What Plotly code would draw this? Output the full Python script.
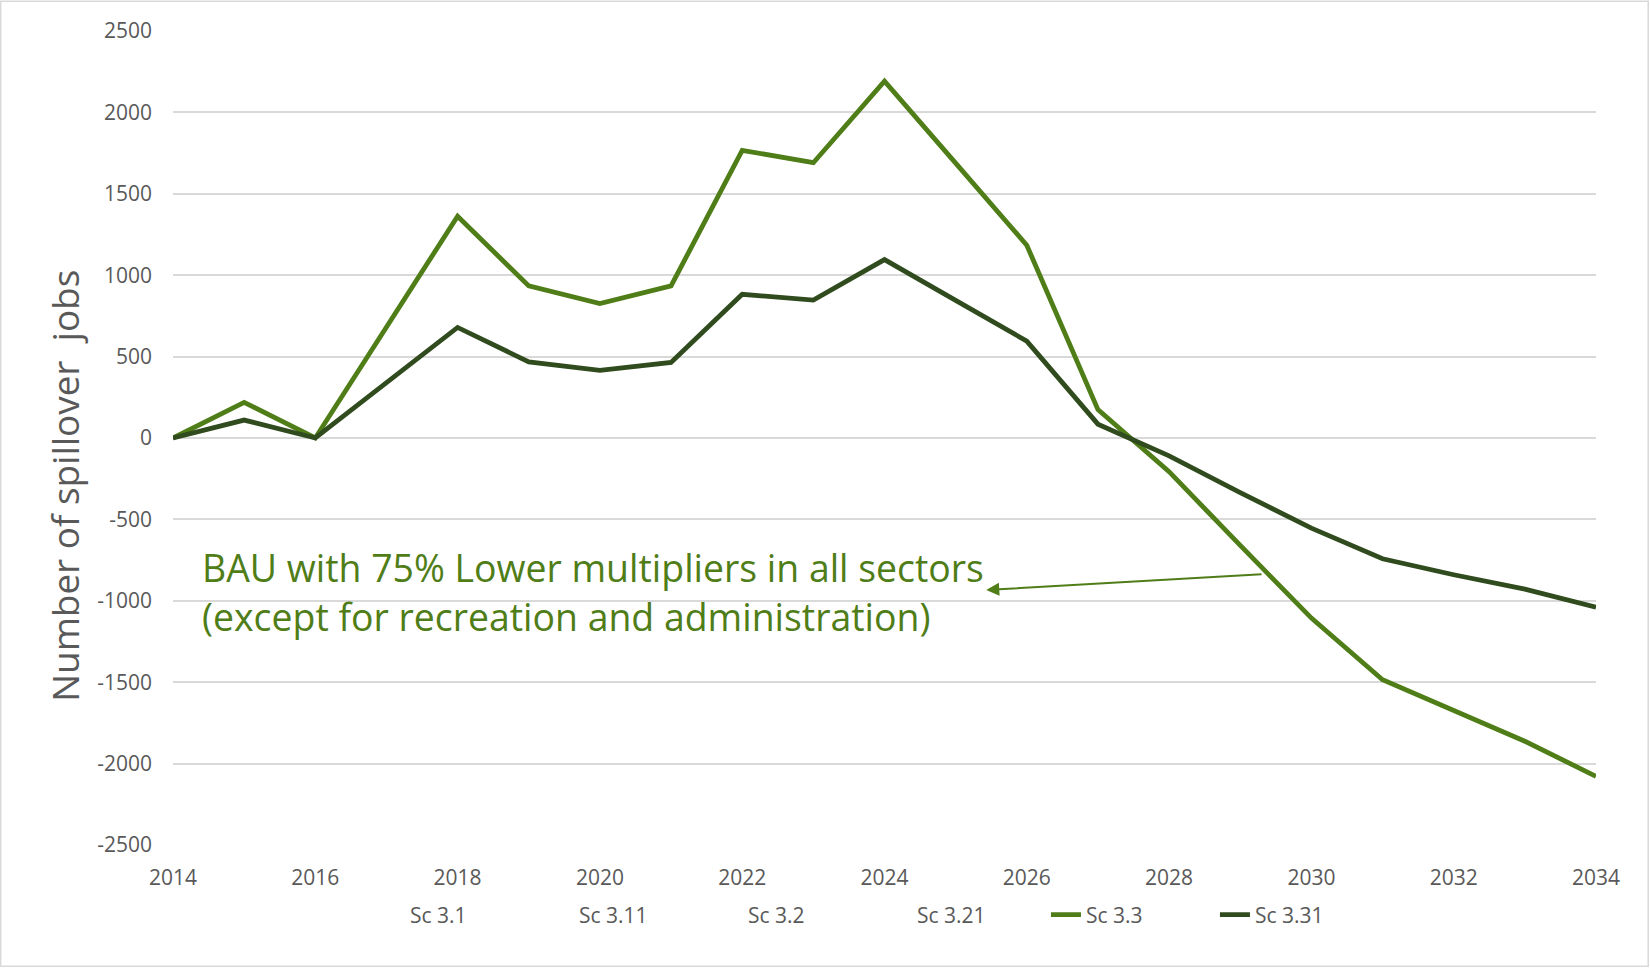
import plotly.graph_objects as go

years = list(range(2014, 2035))

sc33 = [0, 219, 0, 681, 1362, 934, 826, 934, 1767, 1691, 2192, 1688, 1184, 174,
        -207, -660, -1106, -1485, -1675, -1863, -2078]
sc331 = [0, 110, 0, 340, 679, 468, 415, 464, 883, 847, 1096, 845, 595, 85,
         -110, -335, -554, -742, -840, -928, -1039]

hidden_names = ["Sc 3.1", "Sc 3.11", "Sc 3.2", "Sc 3.21"]

y_ticks = [2500, 2000, 1500, 1000, 500, 0, -500, -1000, -1500, -2000, -2500]
x_ticks = list(range(2014, 2035, 2))

annotation_lines = ["BAU with 75% Lower multipliers in all sectors",
                    "(except for recreation and administration)"]

LIGHT = "#4F7D17"
DARK = "#304B1D"
GRID = "#D9D9D9"
TXT = "#595959"
FONT = "Open Sans"

fig = go.Figure()
for nm in hidden_names:
    fig.add_trace(go.Scatter(x=years, y=[None] * len(years), name=nm, mode="lines",
                             line=dict(color="rgba(0,0,0,0)", width=4.5),
                             showlegend=True, hoverinfo="skip"))
fig.add_trace(go.Scatter(x=years, y=sc33, name="Sc 3.3", mode="lines",
                         line=dict(color=LIGHT, width=4.8)))
fig.add_trace(go.Scatter(x=years, y=sc331, name="Sc 3.31", mode="lines",
                         line=dict(color=DARK, width=4.8)))

fig.update_layout(
    width=1650, height=969,
    margin=dict(l=173, r=54, t=31, b=124),
    paper_bgcolor="white", plot_bgcolor="white",
    font=dict(family=FONT, color=TXT, size=21),
    showlegend=True,
    legend=dict(orientation="h", x=0.4947, xanchor="center", y=-0.086, yanchor="middle",
                font=dict(family=FONT, size=21, color=TXT), entrywidth=124,
                bgcolor="rgba(0,0,0,0)"),
    xaxis=dict(range=[2014, 2034], tickvals=x_ticks, ticktext=[str(v) for v in x_ticks],
               showgrid=False, zeroline=False, showline=False, ticks="",
               ticklabelstandoff=18, tickfont=dict(family=FONT, size=21, color=TXT)),
    yaxis=dict(range=[-2500, 2500], tickvals=y_ticks, ticktext=[str(v) for v in y_ticks],
               showgrid=True, gridcolor=GRID, gridwidth=1.5, zeroline=False,
               showline=False, ticks="", ticklabelstandoff=20,
               tickfont=dict(family=FONT, size=21, color=TXT)),
    annotations=[
        dict(text="Number of spillover\u00a0\u00a0jobs", textangle=-90, xref="paper", yref="paper",
             x=-0.0761, y=0.4410, xanchor="center", yanchor="middle", showarrow=False,
             font=dict(family=FONT, size=36.9, color=TXT)),
        dict(text="<br>".join(annotation_lines), xref="x", yref="y", x=2014.385, y=-945,
             xanchor="left", yanchor="middle", align="left", showarrow=False,
             font=dict(family=FONT, size=37.4, color=LIGHT)),
        dict(text="", xref="x", yref="y", x=2025.43, y=-934, axref="x", ayref="y",
             ax=2029.32, ay=-837, showarrow=True, arrowhead=2, arrowsize=1.3,
             arrowwidth=2, arrowcolor=LIGHT),
    ],
    shapes=[dict(type="rect", xref="paper", yref="paper", x0=-0.1211, x1=1.0367,
                 y0=-0.1491, y1=1.0365, line=dict(color=GRID, width=1.5),
                 fillcolor="rgba(0,0,0,0)", layer="below")],
)

fig.write_html("out.html")
